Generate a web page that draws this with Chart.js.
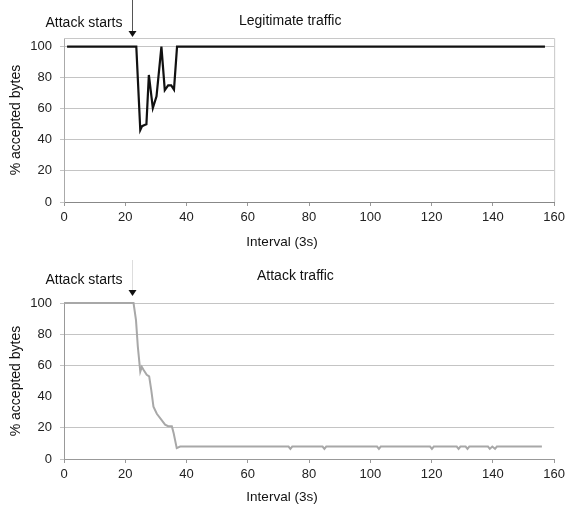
<!DOCTYPE html>
<html>
<head>
<meta charset="utf-8">
<script src="https://cdn.jsdelivr.net/npm/chart.js@4/dist/chart.umd.min.js"></script>
<style>
  body { margin: 0; background: #fff; }
  .box { position: absolute; left: 0; width: 569px; }
</style>
</head>
<body>
<div class="box" style="top:0;height:250px"><canvas id="legit"></canvas></div>
<div class="box" style="top:250px;height:260px"><canvas id="attack"></canvas></div>
<script>
// interval (3s) vs % accepted bytes
const xTicks = [0, 20, 40, 60, 80, 100, 120, 140, 160]
const yTicks = [0, 20, 40, 60, 80, 100]
const attackStart = 22.3

const legitX = [1, 23.6, 24.9, 25.5, 26.3, 26.9, 27.7, 29, 30.2, 31.8, 32.9, 34, 35, 35.9, 36.9, 157]
const legitY = [100, 100, 46.3, 48.8, 49.5, 50, 81.7, 60.4, 68, 100, 72, 75, 75, 72.3, 100, 100]

const attackX = [0, 22.7, 23.5, 24.1, 24.9, 25.4, 26, 27, 27.8, 28.5, 29.2, 30.3, 33, 34, 35.2, 35.8, 36.8, 37.9,
  73.3, 73.9, 74.5, 84.4, 85, 85.6, 102.2, 102.8, 103.4, 119.5, 120.1, 120.7,
  128.2, 128.8, 129.4, 131.1, 131.7, 132.3, 138.4, 139, 139.8, 140.7, 141.3, 156]
const attackY = [100, 100, 89, 72, 56, 59, 57, 54, 53, 44, 33.5, 29, 22, 21, 21, 16.5, 7, 8,
  8, 6.5, 8, 8, 6.5, 8, 8, 6.5, 8, 8, 6.5, 8,
  8, 6.5, 8, 8, 6.5, 8, 8, 6.5, 8, 6.5, 8, 8]

const family = '"Liberation Sans", Arial, sans-serif'
const font = { family: family, size: 13 }

function pts(xs, ys) {
  return xs.map((x, i) => ({ x: x, y: ys[i] }))
}

function notes(title, titleX, titleY, noteY, arrowTop, arrowTip, lineColor, frame, xTitleY) {
  return {
    id: 'notes',
    afterDraw(chart) {
      const ctx = chart.ctx
      const a = chart.chartArea
      const ax = Math.round(chart.scales.x.getPixelForValue(attackStart)) + 0.5
      ctx.save()
      if (frame) {
        ctx.strokeStyle = '#c8c8c8'
        ctx.lineWidth = 1
        ctx.beginPath()
        ctx.moveTo(a.left, a.top + 0.5)
        ctx.lineTo(a.right + 0.5, a.top + 0.5)
        ctx.lineTo(a.right + 0.5, a.bottom)
        ctx.stroke()
      }
      ctx.fillStyle = '#111'
      ctx.textBaseline = 'middle'
      ctx.font = '13.5px ' + family
      ctx.textAlign = 'center'
      ctx.fillText('Interval (3s)', 282, xTitleY)
      ctx.font = '14px ' + family
      ctx.textAlign = 'right'
      ctx.fillText('Attack starts', ax - 10, noteY)
      ctx.textAlign = 'left'
      ctx.fillText(title, titleX, titleY)
      ctx.strokeStyle = lineColor
      ctx.lineWidth = 1
      ctx.beginPath()
      ctx.moveTo(ax, arrowTop)
      ctx.lineTo(ax, arrowTip - 5)
      ctx.stroke()
      ctx.fillStyle = '#111'
      ctx.beginPath()
      ctx.moveTo(ax - 4, arrowTip - 6)
      ctx.lineTo(ax + 4, arrowTip - 6)
      ctx.lineTo(ax, arrowTip)
      ctx.closePath()
      ctx.fill()
      ctx.restore()
    }
  }
}

function makeChart(id, data, opts) {
  return new Chart(document.getElementById(id), {
    type: 'line',
    data: {
      datasets: [{
        data: data,
        borderColor: opts.color,
        borderWidth: opts.width,
        pointRadius: 0,
        tension: 0,
        fill: false,
        clip: false
      }]
    },
    options: {
      responsive: true,
      maintainAspectRatio: false,
      animation: false,
      layout: { padding: { top: opts.top, right: 14, left: 8, bottom: 0 } },
      plugins: { legend: { display: false }, tooltip: { enabled: false } },
      scales: {
        x: {
          type: 'linear',
          min: 0, max: 160,
          afterBuildTicks: s => { s.ticks = xTicks.map(v => ({ value: v })) },
          afterFit: s => { s.height = opts.xh },
          ticks: { font: font, color: '#222', padding: 4, maxRotation: 0 },
          grid: { drawOnChartArea: false, tickLength: 4, color: '#999' },
          border: { color: opts.xAxis, width: 1 }
        },
        y: {
          min: 0, max: opts.ymax,
          afterBuildTicks: s => { s.ticks = yTicks.map(v => ({ value: v })) },
          afterFit: s => { s.width = 56 },
          ticks: { font: font, color: '#222', padding: 8 },
          grid: {
            tickLength: 4,
            color: c => (opts.skip40 && c.tick && c.tick.value === 40) ? 'rgba(0,0,0,0)' : '#c4c4c4'
          },
          border: { color: opts.yAxis, width: 1 },
          title: { display: true, text: '% accepted bytes', font: { family: family, size: 14 }, color: '#111', padding: { top: 0, bottom: 2 } }
        }
      }
    },
    plugins: [opts.notes]
  })
}

makeChart('legit', pts(legitX, legitY), {
  color: '#111', width: 2.2, top: 38, xh: 48, ymax: 105.5,
  xAxis: '#888', yAxis: '#aaa', skip40: false,
  notes: notes('Legitimate traffic', 239, 21, 23, 0, 37, '#555', true, 242)
})

makeChart('attack', pts(attackX, attackY), {
  color: '#a8a8a8', width: 2, top: 53, xh: 51, ymax: 100,
  xAxis: '#999', yAxis: '#999', skip40: true,
  notes: notes('Attack traffic', 257, 26, 30, 10, 46, '#ddd', false, 247)
})
</script>
</body>
</html>
